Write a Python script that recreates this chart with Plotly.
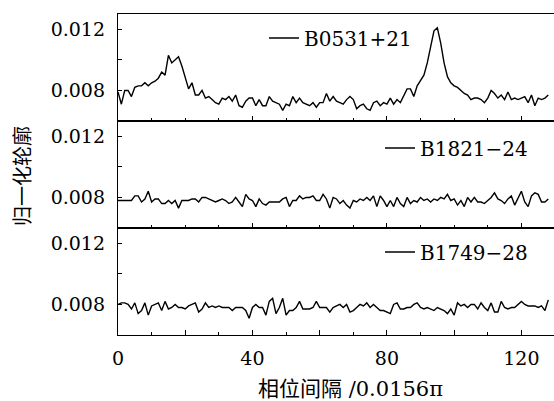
import plotly.graph_objects as go
from plotly.subplots import make_subplots

phase_bins = list(range(129))

series_names = ["B0531+21", "B1821\u221224", "B1749\u221228"]

b0531 = [
    0.0079, 0.0071, 0.0080, 0.0080, 0.0076, 0.0082, 0.0083, 0.0083, 0.0085, 0.0083,
    0.0085, 0.0086, 0.0088, 0.0092, 0.0090, 0.0103, 0.0098, 0.0100, 0.0102, 0.0096,
    0.0089, 0.0081, 0.0085, 0.0077, 0.0077, 0.0080, 0.0075, 0.0076, 0.0074, 0.0072,
    0.0071, 0.0075, 0.0074, 0.0076, 0.0073, 0.0077, 0.0070, 0.0069, 0.0073, 0.0075,
    0.0075, 0.0070, 0.0074, 0.0070, 0.0070, 0.0076, 0.0073, 0.0072, 0.0071, 0.0067,
    0.0071, 0.0070, 0.0076, 0.0072, 0.0075, 0.0072, 0.0071, 0.0070, 0.0072, 0.0069,
    0.0072, 0.0072, 0.0078, 0.0073, 0.0076, 0.0073, 0.0072, 0.0071, 0.0074, 0.0076,
    0.0074, 0.0068, 0.0070, 0.0071, 0.0068, 0.0067, 0.0072, 0.0073, 0.0070, 0.0072,
    0.0071, 0.0075, 0.0071, 0.0074, 0.0072, 0.0076, 0.0081, 0.0081, 0.0076, 0.0083,
    0.0087, 0.0090, 0.0098, 0.0109, 0.0119, 0.0121, 0.0111, 0.0098, 0.0089, 0.0085,
    0.0083, 0.0082, 0.0080, 0.0078, 0.0077, 0.0074, 0.0075, 0.0075, 0.0074, 0.0072,
    0.0075, 0.0080, 0.0078, 0.0075, 0.0077, 0.0074, 0.0079, 0.0074, 0.0075, 0.0074,
    0.0075, 0.0076, 0.0072, 0.0077, 0.0070, 0.0075, 0.0074, 0.0075, 0.0077,
]

b1821 = [
    0.0078, 0.0078, 0.0078, 0.0078, 0.0078, 0.0081, 0.0081, 0.0077, 0.0079, 0.0084,
    0.0077, 0.0079, 0.0079, 0.0076, 0.0076, 0.0078, 0.0076, 0.0078, 0.0073, 0.0078,
    0.0078, 0.0078, 0.0079, 0.0079, 0.0077, 0.0080, 0.0080, 0.0079, 0.0078, 0.0077,
    0.0078, 0.0079, 0.0078, 0.0076, 0.0077, 0.0080, 0.0077, 0.0074, 0.0082, 0.0079,
    0.0078, 0.0074, 0.0079, 0.0076, 0.0075, 0.0077, 0.0077, 0.0077, 0.0077, 0.0079,
    0.0080, 0.0074, 0.0078, 0.0078, 0.0081, 0.0079, 0.0080, 0.0080, 0.0081, 0.0078,
    0.0078, 0.0082, 0.0079, 0.0073, 0.0080, 0.0079, 0.0076, 0.0078, 0.0075, 0.0073,
    0.0078, 0.0077, 0.0079, 0.0078, 0.0080, 0.0078, 0.0081, 0.0074, 0.0081, 0.0078,
    0.0074, 0.0078, 0.0074, 0.0080, 0.0076, 0.0074, 0.0080, 0.0076, 0.0078, 0.0077,
    0.0080, 0.0078, 0.0079, 0.0077, 0.0079, 0.0078, 0.0080, 0.0079, 0.0082, 0.0078,
    0.0079, 0.0075, 0.0078, 0.0074, 0.0080, 0.0077, 0.0080, 0.0077, 0.0077, 0.0076,
    0.0078, 0.0080, 0.0083, 0.0079, 0.0078, 0.0076, 0.0079, 0.0081, 0.0075, 0.0080,
    0.0084, 0.0077, 0.0074, 0.0081, 0.0083, 0.0082, 0.0077, 0.0077, 0.0079,
]

b1749 = [
    0.0080, 0.0081, 0.0081, 0.0080, 0.0077, 0.0081, 0.0074, 0.0076, 0.0081, 0.0073,
    0.0079, 0.0080, 0.0081, 0.0076, 0.0082, 0.0077, 0.0078, 0.0080, 0.0078, 0.0078,
    0.0077, 0.0079, 0.0080, 0.0081, 0.0075, 0.0077, 0.0081, 0.0078, 0.0079, 0.0078,
    0.0079, 0.0078, 0.0078, 0.0078, 0.0076, 0.0078, 0.0078, 0.0078, 0.0076, 0.0071,
    0.0078, 0.0080, 0.0078, 0.0078, 0.0073, 0.0082, 0.0084, 0.0074, 0.0078, 0.0084,
    0.0073, 0.0076, 0.0076, 0.0078, 0.0082, 0.0077, 0.0077, 0.0077, 0.0078, 0.0082,
    0.0078, 0.0078, 0.0078, 0.0075, 0.0078, 0.0079, 0.0080, 0.0078, 0.0080, 0.0075,
    0.0076, 0.0078, 0.0080, 0.0079, 0.0081, 0.0078, 0.0080, 0.0078, 0.0076, 0.0076,
    0.0075, 0.0074, 0.0080, 0.0081, 0.0077, 0.0077, 0.0078, 0.0078, 0.0080, 0.0081,
    0.0078, 0.0077, 0.0078, 0.0077, 0.0076, 0.0078, 0.0077, 0.0076, 0.0074, 0.0077,
    0.0073, 0.0081, 0.0079, 0.0080, 0.0078, 0.0080, 0.0080, 0.0077, 0.0081, 0.0078,
    0.0076, 0.0081, 0.0075, 0.0075, 0.0082, 0.0078, 0.0077, 0.0078, 0.0078, 0.0080,
    0.0082, 0.0080, 0.0079, 0.0079, 0.0079, 0.0078, 0.0079, 0.0076, 0.0083,
]

y_tickvals = [0.008, 0.010, 0.012]
y_ticktext = ["0.008", "", "0.012"]
x_tickvals = [0, 20, 40, 60, 80, 100, 120]
x_ticktext = ["0", "", "40", "", "80", "", "120"]

x_title = "相位间隔 /0.0156π"
y_title = "归一化轮廓"

SERIF = "DejaVu Serif"
MIXED = "DejaVu Serif, Noto Sans CJK SC"
W, H = 554, 401
ML, MR, MT, MB = 118, 0, 14, 66
PW, PH = W - ML - MR, H - MT - MB

fig = make_subplots(rows=3, cols=1, shared_xaxes=True, vertical_spacing=0)

all_series = [b0531, b1821, b1749]
legend_ids = ["legend", "legend2", "legend3"]
for i, (name, vals) in enumerate(zip(series_names, all_series)):
    fig.add_trace(
        go.Scatter(
            x=phase_bins, y=vals, mode="lines", name=name,
            line=dict(color="black", width=1.4),
            legend=legend_ids[i],
        ),
        row=i + 1, col=1,
    )

for r in range(1, 4):
    fig.update_xaxes(
        row=r, col=1,
        range=[0, 129.7], automargin=False,
        showline=True, linecolor="black", linewidth=1.3, mirror=True,
        ticks="inside", ticklen=5, tickcolor="black", tickwidth=1,
        tickmode="array", tickvals=x_tickvals, ticktext=x_ticktext,
        minor=dict(tickmode="linear", tick0=0, dtick=10, ticks="inside",
                   ticklen=3, tickcolor="black", tickwidth=1),
        showgrid=False, zeroline=False,
        tickfont=dict(family=SERIF, size=19, color="black"),
        showticklabels=(r == 3),
        ticklabelstandoff=6,
    )
    fig.update_yaxes(
        row=r, col=1,
        range=[0.0060, 0.0130], automargin=False,
        showline=True, linecolor="black", linewidth=1.3, mirror=False,
        ticks="inside", ticklen=4, tickcolor="black", tickwidth=1,
        tickmode="array", tickvals=y_tickvals, ticktext=y_ticktext,
        showgrid=False, zeroline=False,
        tickfont=dict(family=SERIF, size=19, color="black"),
        ticklabelstandoff=8,
    )

def px_x(px):
    return (px - ML) / PW

def px_y(py):
    return (H - MB - py) / PH

legend_common = dict(
    font=dict(family=SERIF, size=20, color="black"),
    bgcolor="rgba(0,0,0,0)", borderwidth=0,
    xanchor="left", yanchor="middle", itemwidth=30,
)
fig.update_layout(
    legend=dict(x=px_x(264), y=px_y(38), **legend_common),
    legend2=dict(x=px_x(380), y=px_y(148), **legend_common),
    legend3=dict(x=px_x(380), y=px_y(252), **legend_common),
)

fig.add_annotation(
    text=x_title, xref="paper", yref="paper",
    x=px_x(350), y=px_y(389), xanchor="center", yanchor="middle",
    showarrow=False, font=dict(family=MIXED, size=21, color="black"),
)
fig.add_annotation(
    text=y_title, xref="paper", yref="paper",
    x=px_x(21), y=px_y(176), xanchor="center", yanchor="middle",
    textangle=-90, showarrow=False,
    font=dict(family="Noto Sans CJK SC", size=20, color="black"),
)

fig.update_layout(
    width=W, height=H,
    margin=dict(l=ML, r=MR, t=MT, b=MB, autoexpand=False),
    paper_bgcolor="white", plot_bgcolor="white",
    showlegend=True,
)

fig.write_html(
    "out.html",
    config={"displayModeBar": False},
    post_script="document.body.style.margin='0';document.body.style.overflow='hidden';",
)
